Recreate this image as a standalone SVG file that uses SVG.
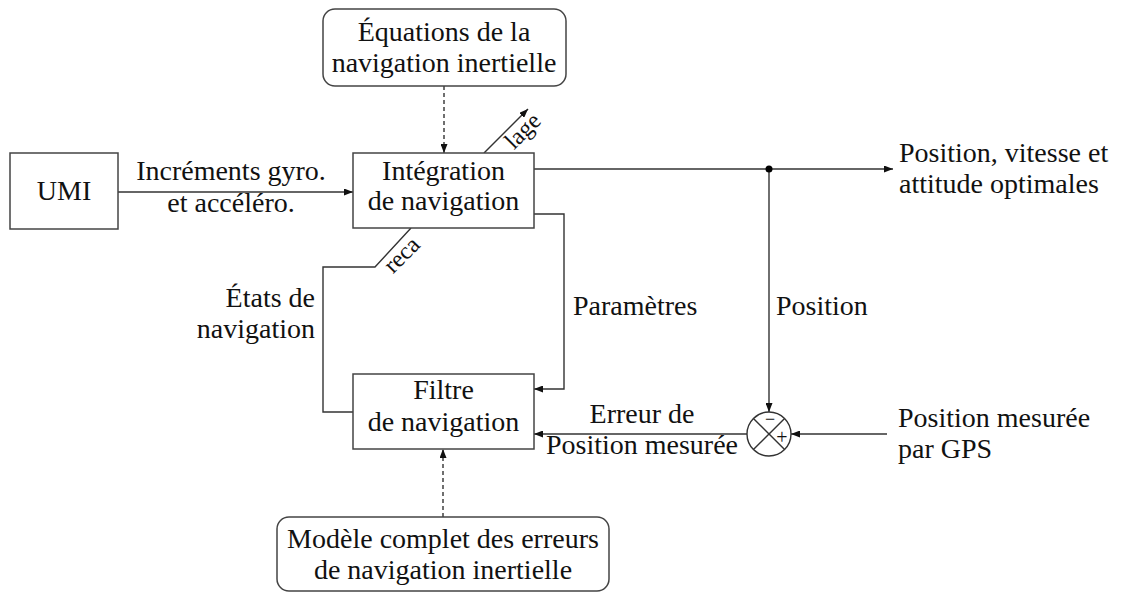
<svg xmlns="http://www.w3.org/2000/svg" width="1127" height="592" viewBox="0 0 1127 592">
<defs>
<marker id="arr" markerWidth="9" markerHeight="7" refX="9" refY="3.5" orient="auto" markerUnits="userSpaceOnUse">
<path d="M0,0 L9,3.5 L0,7 z" fill="#111"/>
</marker>
<style>
text{font-size:28px;fill:#111}
.c{text-anchor:middle}
.r{text-anchor:end}
.box{fill:#fff;stroke:#444;stroke-width:1.5}
.ln{fill:none;stroke:#333;stroke-width:1.4}
.dash{fill:none;stroke:#333;stroke-width:1.4;stroke-dasharray:4,3}
</style>
</defs>
<rect width="1127" height="592" fill="#fff"/>
<g id="connectors">
<line class="dash" x1="444" y1="86" x2="444" y2="153" marker-end="url(#arr)"/>
<line class="dash" x1="443" y1="517" x2="443" y2="449" marker-end="url(#arr)"/>
<line class="ln" x1="118" y1="192" x2="353" y2="192" marker-end="url(#arr)"/>
<line class="ln" x1="484" y1="153" x2="528" y2="109" marker-end="url(#arr)"/>
<polyline class="ln" points="411,228 375,267 323,267 323,412 353,412"/>
<polyline class="ln" points="534,169 893,169" marker-end="url(#arr)"/>
<polyline class="ln" points="534,214 564,214 564,389 534,389" marker-end="url(#arr)"/>
<line class="ln" x1="769" y1="169" x2="769" y2="412" marker-end="url(#arr)"/>
<line class="ln" x1="887" y1="434" x2="791" y2="434" marker-end="url(#arr)"/>
<line class="ln" x1="747" y1="434" x2="534" y2="434" marker-end="url(#arr)"/>
<circle cx="769" cy="169" r="3.5" fill="#000"/>
</g>
<g font-family="Liberation Serif, DejaVu Serif, serif">
<g id="umi">
<rect class="box" x="10" y="153" width="108" height="76"/>
<text class="c" x="64" y="200">UMI</text>
</g>
<g id="equations">
<rect class="box" x="323" y="9" width="243" height="77" rx="12"/>
<text class="c" x="444" y="41">Équations de la</text>
<text class="c" x="444" y="72">navigation inertielle</text>
</g>
<g id="integration">
<rect class="box" x="353" y="153" width="181" height="75"/>
<text class="c" x="443.5" y="180">Intégration</text>
<text class="c" x="443.5" y="210">de navigation</text>
</g>
<g id="filtre">
<rect class="box" x="353" y="374" width="181" height="75"/>
<text class="c" x="443.5" y="399">Filtre</text>
<text class="c" x="443.5" y="431">de navigation</text>
</g>
<g id="modele">
<rect class="box" x="277" y="517" width="332" height="74" rx="12"/>
<text class="c" x="443" y="548">Modèle complet des erreurs</text>
<text class="c" x="443" y="579">de navigation inertielle</text>
</g>
<g id="sum">
<circle cx="769" cy="434" r="22" fill="#fff" stroke="#333" stroke-width="1.4"/>
<line class="ln" x1="753.4" y1="418.4" x2="784.6" y2="449.6"/>
<line class="ln" x1="784.6" y1="418.4" x2="753.4" y2="449.6"/>
<text class="c" x="770" y="425" style="font-size:18px">−</text>
<text class="c" x="782" y="444" style="font-size:20px">+</text>
</g>
<g id="labels">
<text class="c" x="231" y="180">Incréments gyro.</text>
<text class="c" x="231" y="212">et accéléro.</text>
<text x="899" y="162">Position, vitesse et</text>
<text x="899" y="193">attitude optimales</text>
<text x="898" y="427">Position mesurée</text>
<text x="898" y="458">par GPS</text>
<text class="c" x="642" y="423">Erreur de</text>
<text class="c" x="642" y="454">Position mesurée</text>
<text x="573" y="315">Paramètres</text>
<text x="776" y="315">Position</text>
<text class="r" x="315" y="307">États de</text>
<text class="r" x="315" y="338">navigation</text>
<text class="c" transform="translate(524,132) rotate(-45)" style="font-size:24px" y="6">lage</text>
<text class="c" transform="translate(403,256) rotate(-45)" style="font-size:24px" y="6">reca</text>
</g>
</g>
</svg>
